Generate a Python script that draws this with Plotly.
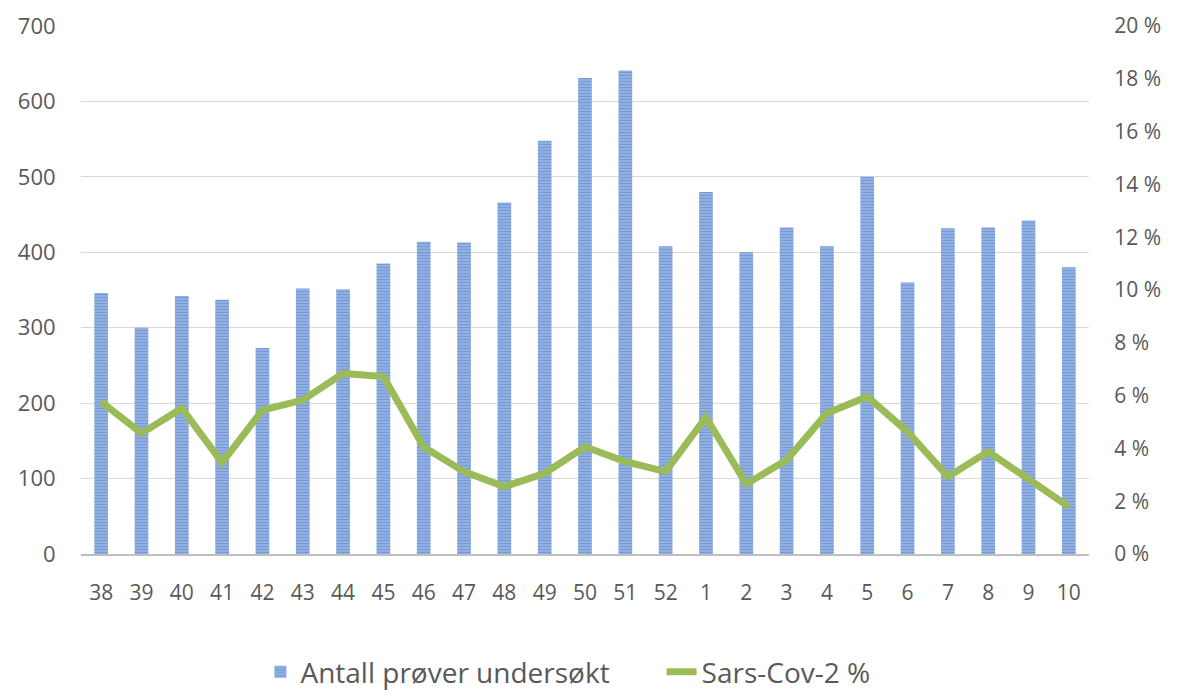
import plotly.graph_objects as go

weeks = ["38", "39", "40", "41", "42", "43", "44", "45", "46", "47", "48", "49", "50",
         "51", "52", "1", "2", "3", "4", "5", "6", "7", "8", "9", "10"]
samples = [346, 300, 342, 337, 273, 352, 351, 385, 414, 413, 466, 548, 631,
           641, 408, 480, 400, 433, 408, 500, 360, 432, 433, 442, 380]
sars_pct = [5.77, 4.57, 5.52, 3.46, 5.45, 5.83, 6.84, 6.72, 4.05, 3.12, 2.55, 3.06, 4.06,
            3.5, 3.12, 5.18, 2.65, 3.56, 5.33, 5.96, 4.63, 2.93, 3.88, 2.8, 1.79]

left_ticks = [0, 100, 200, 300, 400, 500, 600, 700]
right_ticks = [0, 2, 4, 6, 8, 10, 12, 14, 16, 18, 20]
right_text = [f"{v} %" for v in right_ticks]

font_family = "Open Sans, Lato, sans-serif"
txt_color = "#595959"

fig = go.Figure()
fig.add_trace(go.Bar(
    x=weeks, y=samples, name="Antall prøver undersøkt",
    width=0.34,
    marker=dict(color="#a9c2ea",
                line=dict(width=0),
                pattern=dict(shape="-", fgcolor="#4472c4", bgcolor="#a9c2ea",
                             size=3, solidity=0.65)),
    yaxis="y", legend="legend",
))
fig.add_trace(go.Scatter(
    x=weeks, y=sars_pct, name="Sars-Cov-2 %",
    mode="lines", line=dict(color="#9bbb59", width=7),
    yaxis="y2", legend="legend2",
))

fig.update_layout(
    width=1177, height=691,
    margin=dict(l=81, r=88, t=26, b=137, autoexpand=False),
    paper_bgcolor="white", plot_bgcolor="white",
    font=dict(family=font_family, size=21, color=txt_color),
    showlegend=True,
    legend=dict(orientation="h", x=0.178, xanchor="left", y=-0.2235, yanchor="middle",
                font=dict(size=28, color=txt_color), bgcolor="rgba(0,0,0,0)"),
    legend2=dict(orientation="h", x=0.576, xanchor="left", y=-0.2235, yanchor="middle",
                 font=dict(size=28, color=txt_color), bgcolor="rgba(0,0,0,0)"),
    xaxis=dict(type="category", showgrid=False, ticks="outside", ticklen=19,
               tickcolor="rgba(0,0,0,0)", showline=True, linecolor="#bfbfbf", linewidth=2,
               automargin=False, tickfont=dict(size=21, color=txt_color)),
    yaxis=dict(range=[0, 700], tickvals=left_ticks, showgrid=True, gridcolor="#d9d9d9",
               gridwidth=1, zeroline=False, showline=False, ticks="outside", ticklen=20,
               automargin=False,
               tickcolor="rgba(0,0,0,0)", tickfont=dict(size=22, color=txt_color)),
    yaxis2=dict(range=[0, 20], overlaying="y", side="right", tickvals=right_ticks,
                ticktext=right_text, showgrid=False, zeroline=False, showline=False,
                ticks="outside", ticklen=20, tickcolor="rgba(0,0,0,0)", automargin=False,
                tickfont=dict(size=21, color=txt_color)),
)

fig.write_html("out.html", post_script="document.body.style.margin='0';",
               config={"displayModeBar": False})
